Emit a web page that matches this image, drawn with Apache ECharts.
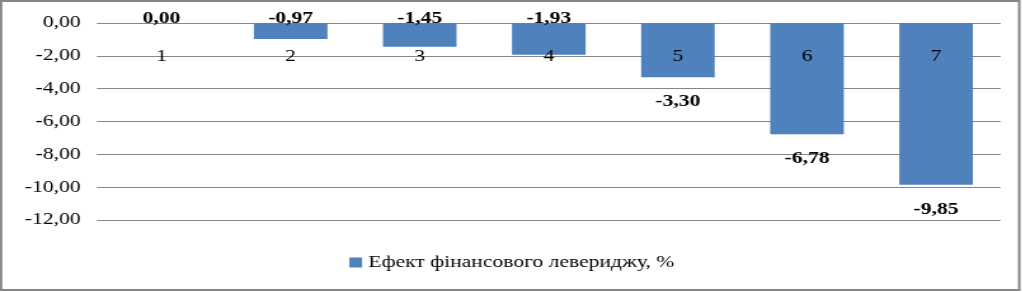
<!DOCTYPE html>
<html><head><meta charset="utf-8">
<script src="https://cdn.jsdelivr.net/npm/echarts@6/dist/echarts.min.js"></script>
<style>html,body{margin:0;padding:0;background:#fff;overflow:hidden}#c{height:292px;transform-origin:0 0}</style>
</head><body><div id="c"></div>
<script>
const categories = ['1','2','3','4','5','6','7'];
const values = [0.00, -0.97, -1.45, -1.93, -3.30, -6.78, -9.85];
const seriesName = 'Ефект фінансового левериджу, %';
const yTicks = {min: -12, max: 0, interval: 2};

const SX = 1.27;               // the reference is horizontally stretched
const W = 1023 / SX;
const el = document.getElementById('c');
el.style.width = W + 'px';
el.style.transform = 'scaleX(' + SX + ')';

const fmt = v => v.toFixed(2).replace('.', ',').replace(/^-0,00$/, '0,00');
const font = '"Liberation Serif","Times New Roman",serif';

const chart = echarts.init(el);
chart.setOption({
  animation: false,
  graphic: [{type:'rect', shape:{x:0.8,y:1,width:1019/SX-0.6,height:289}, style:{fill:'none', stroke:'#868686', lineWidth:2}, z:100}],
  grid: {left: 97 / SX, right: 23 / SX, top: 23, bottom: 72},
  legend: {
    bottom: 16, left: 'center', itemWidth: 10, itemHeight: 10, itemGap: 3,
    icon: 'rect',
    textStyle: {fontFamily: font, fontSize: 17, color: '#000'},
    data: [seriesName]
  },
  xAxis: {
    type: 'category', data: categories, z: 10, position: 'top',
    axisLine: {show: false}, axisTick: {show: false},
    axisLabel: {inside: true, margin: 25, fontFamily: font, fontSize: 17, color: '#000'}
  },
  yAxis: {
    type: 'value', min: yTicks.min, max: yTicks.max, interval: yTicks.interval,
    axisLine: {show: false}, axisTick: {show: false},
    splitLine: {lineStyle: {color: '#868686', width: 1}},
    axisLabel: {margin: 13, fontFamily: font, fontSize: 17, color: '#000', formatter: fmt}
  },
  series: [{
    name: seriesName, type: 'bar', barCategoryGap: '43%',
    itemStyle: {color: '#4F81BD'},
    data: values.map(v => ({
      value: v,
      label: {
        show: true,
        position: v > -3 ? 'top' : 'bottom',
        distance: v > -3 ? -4 : 16,
        formatter: p => fmt(p.value),
        fontFamily: font, fontSize: 17, fontWeight: 'bold', color: '#000'
      }
    }))
  }]
});
</script></body></html>
